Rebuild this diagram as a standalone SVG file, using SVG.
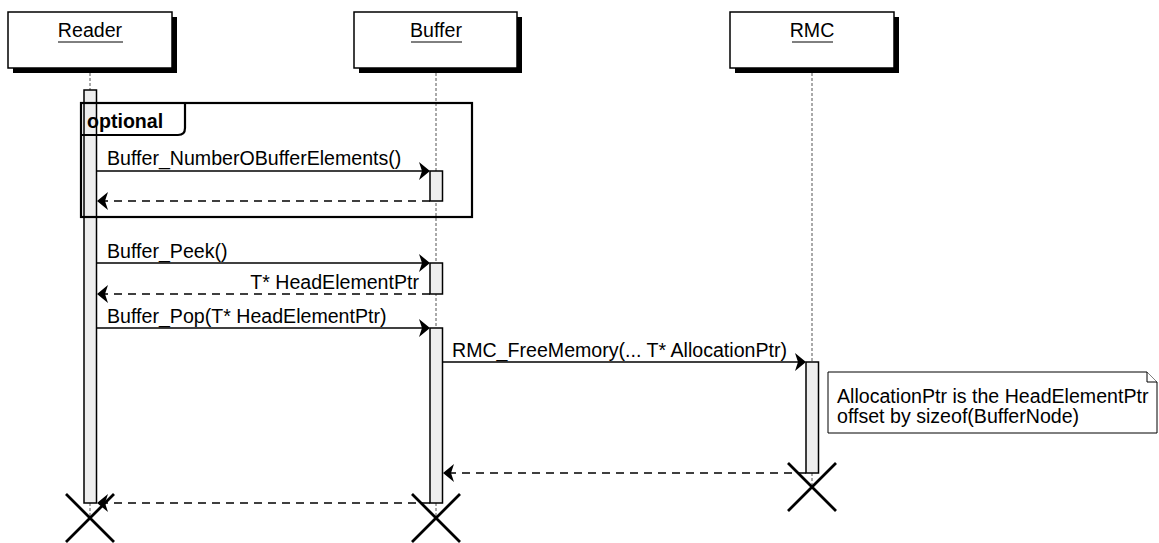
<svg xmlns="http://www.w3.org/2000/svg" width="1159" height="543" viewBox="0 0 1159 543">
<style>
text{font-family:"Liberation Sans",Arial,sans-serif;font-size:19.6px;fill:#000}
.pbox{fill:#fff;stroke:#000;stroke-width:1.5}
.shadow{fill:#000}
.life{stroke:#555;stroke-width:1;stroke-dasharray:3,2;fill:none}
.act{fill:#eeeeee;stroke:#000;stroke-width:1.5}
.msg{stroke:#000;stroke-width:1.3;fill:none}
.ret{stroke:#000;stroke-width:1.3;fill:none;stroke-dasharray:8,6}
.head{fill:#000}
.x{stroke:#000;stroke-width:2.8;fill:none}
.frame{fill:none;stroke:#000;stroke-width:2.2}
.note{fill:#fff;stroke:#000;stroke-width:1}
</style>
<g id="lifelines">
<line class="life" x1="90" y1="68" x2="90" y2="518"/>
<line class="life" x1="436" y1="68" x2="436" y2="518"/>
<line class="life" x1="812" y1="68" x2="812" y2="487"/>
</g>
<g id="Reader">
<rect class="shadow" x="13" y="17" width="164" height="56"/>
<rect class="pbox" x="8" y="12" width="164" height="56"/>
<text x="90" y="37" text-anchor="middle">Reader</text>
<line x1="58" y1="42" x2="123" y2="42" stroke="#000" stroke-width="1"/>
</g>
<g id="Buffer">
<rect class="shadow" x="359" y="17" width="163" height="56"/>
<rect class="pbox" x="354" y="12" width="163" height="56"/>
<text x="436" y="37" text-anchor="middle">Buffer</text>
<line x1="411" y1="42" x2="462" y2="42" stroke="#000" stroke-width="1"/>
</g>
<g id="RMC">
<rect class="shadow" x="735" y="17" width="164" height="56"/>
<rect class="pbox" x="730" y="12" width="164" height="56"/>
<text x="812" y="37" text-anchor="middle">RMC</text>
<line x1="792" y1="42" x2="833" y2="42" stroke="#000" stroke-width="1"/>
</g>
<g id="activations">
<rect class="act" x="84" y="90" width="12.5" height="413"/>
<rect class="act" x="430" y="171" width="12.5" height="30"/>
<rect class="act" x="430" y="263" width="12.5" height="31"/>
<rect class="act" x="430" y="328" width="12.5" height="175"/>
<rect class="act" x="806" y="362" width="12.5" height="111"/>
</g>
<g id="optional">
<rect class="frame" x="81" y="103" width="391" height="114"/>
<path class="frame" d="M81,135 H178 Q185,135 185,128 V103"/>
<text x="87" y="128" font-weight="bold">optional</text>
</g>
<g id="connectors">
<line class="msg" x1="97" y1="171" x2="428" y2="171"/>
<polygon class="head" points="430,171 419,162 422,171 419,180"/>
<text x="107" y="165">Buffer_NumberOBufferElements()</text>
<line class="ret" x1="430" y1="201" x2="99" y2="201"/>
<polygon class="head" points="97,201 108,192 105,201 108,210"/>

<line class="msg" x1="97" y1="263" x2="428" y2="263"/>
<polygon class="head" points="430,263 419,254 422,263 419,272"/>
<text x="107" y="258">Buffer_Peek()</text>
<line class="ret" x1="430" y1="294" x2="99" y2="294"/>
<polygon class="head" points="97,294 108,285 105,294 108,303"/>
<text x="419" y="289" text-anchor="end">T* HeadElementPtr</text>

<line class="msg" x1="97" y1="328" x2="428" y2="328"/>
<polygon class="head" points="430,328 419,319 422,328 419,337"/>
<text x="107" y="323">Buffer_Pop(T* HeadElementPtr)</text>

<line class="msg" x1="443" y1="362" x2="804" y2="362"/>
<polygon class="head" points="806,362 795,353 798,362 795,371"/>
<text x="452" y="357">RMC_FreeMemory(... T* AllocationPtr)</text>

<line class="ret" x1="806" y1="473" x2="445" y2="473"/>
<polygon class="head" points="443,473 454,464 451,473 454,482"/>

<line class="ret" x1="430" y1="503" x2="99" y2="503"/>
<polygon class="head" points="97,503 108,494 105,503 108,512"/>
</g>
<g id="note">
<path class="note" d="M828,372 H1147 L1157,382 V433 H828 Z"/>
<path class="note" d="M1147,372 V382 H1157"/>
<text x="837" y="403">AllocationPtr is the HeadElementPtr</text>
<text x="837" y="423">offset by sizeof(BufferNode)</text>
</g>
<g id="destroys">
<path class="x" d="M66,494 L114,542 M114,494 L66,542"/>
<path class="x" d="M412,494 L460,542 M460,494 L412,542"/>
<path class="x" d="M788,463 L836,511 M836,463 L788,511"/>
</g>
</svg>
